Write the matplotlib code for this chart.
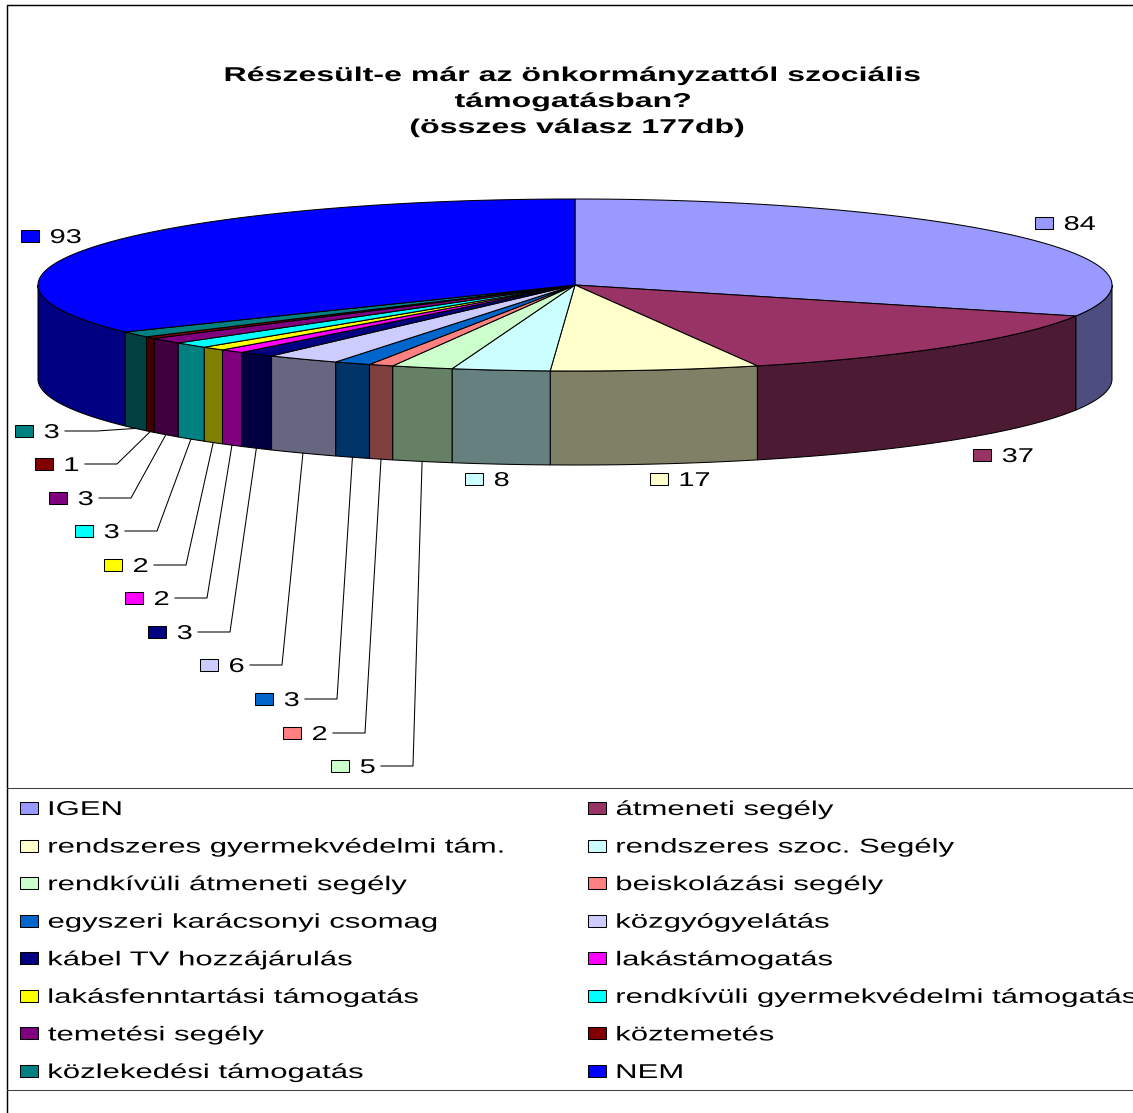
import numpy as np
import matplotlib
matplotlib.use("Agg")
import matplotlib.pyplot as plt
from matplotlib.patches import Polygon, Rectangle
from matplotlib.patheffects import AbstractPathEffect
from matplotlib.transforms import Affine2D

title_lines = ["Részesült-e már az önkormányzattól szociális",
               "támogatásban?",
               "(összes válasz 177db)"]
categories = ["IGEN", "átmeneti segély", "rendszeres gyermekvédelmi tám.",
              "rendszeres szoc. Segély", "rendkívüli átmeneti segély",
              "beiskolázási segély", "egyszeri karácsonyi csomag", "közgyógyelátás",
              "kábel TV hozzájárulás", "lakástámogatás", "lakásfenntartási támogatás",
              "rendkívüli gyermekvédelmi támogatás", "temetési segély", "köztemetés",
              "közlekedési támogatás", "NEM"]
values = [84, 37, 17, 8, 5, 2, 3, 6, 3, 2, 2, 3, 3, 1, 3, 93]
colors = ["#9999FF", "#993366", "#FFFFCC", "#CCFFFF", "#CCFFCC", "#FF8080", "#0066CC", "#CCCCFF",
          "#000080", "#FF00FF", "#FFFF00", "#00FFFF", "#800080", "#800000", "#008080", "#0000FF"]

# label layout (pixel positions): marker left x, centre y
label_pos = [(1035, 223), (973, 455), (650, 479), (465, 479), (331, 766), (283, 733), (255, 699),
             (200, 665), (148, 632), (125, 598), (104, 565), (75, 531), (49, 498), (35, 464),
             (15, 431), (21, 236)]
leader_idx = [4, 5, 6, 7, 8, 9, 10, 11, 12, 13, 14]

CX, CY, RX, RY, DEPTH = 575.0, 285.0, 537.0, 86.0, 94.0
W, H = 1133, 1113
LW = 0.75
FS = 14.4
LABEL_STRETCH = 1.45
LEGEND_STRETCH = 1.555
TITLE_STRETCH = 1.605


class StretchX(AbstractPathEffect):
    """Widen glyphs horizontally, as in the stretched original rendering."""
    def __init__(self, sx, anchor="left"):
        super().__init__()
        self.sx, self.anchor = sx, anchor

    def draw_path(self, renderer, gc, tpath, affine, rgbFace=None):
        ext = tpath.get_extents(affine)
        x0 = ext.x0 if self.anchor == "left" else 0.5 * (ext.x0 + ext.x1)
        aff = affine + Affine2D().translate(-x0, 0).scale(self.sx, 1).translate(x0, 0)
        renderer.draw_path(gc, tpath, aff, rgbFace)


def ell(theta_deg, dy=0.0):
    t = np.radians(theta_deg)
    return np.column_stack([CX + RX * np.sin(t), CY - RY * np.cos(t) + dy])


def dark(c):
    r, g, b = matplotlib.colors.to_rgb(c)
    return (r * 0.5, g * 0.5, b * 0.5)


fig = plt.figure(figsize=(W / 100, H / 100), dpi=100, facecolor="white")
ax = fig.add_axes([0, 0, 1, 1])
ax.set_xlim(0, W)
ax.set_ylim(H, 0)
ax.axis("off")

edges = np.concatenate([[0], np.cumsum(values)]) / sum(values) * 360.0

# side walls (only the front half is visible)
for i, c in enumerate(colors):
    a, b = max(edges[i], 90), min(edges[i + 1], 270)
    if b <= a:
        continue
    th = np.linspace(a, b, 100)
    pts = np.vstack([ell(th), ell(th[::-1], DEPTH)])
    ax.add_patch(Polygon(pts, closed=True, fc=dark(c), ec="black", lw=LW, zorder=2))

# top faces
for i, c in enumerate(colors):
    th = np.linspace(edges[i], edges[i + 1], 200)
    pts = np.vstack([[CX, CY], ell(th)])
    ax.add_patch(Polygon(pts, closed=True, fc=c, ec="black", lw=LW, zorder=3))


def put(x, y, s, sx, ha="left", weight="normal", size=FS):
    ax.text(x, y, s, ha=ha, va="baseline", fontsize=size, fontweight=weight,
            family="Liberation Sans", color="black",
            path_effects=[StretchX(sx, "left" if ha == "left" else "center")], zorder=6)


# data labels and leader lines
for i, (v, c, (mx, my)) in enumerate(zip(values, colors, label_pos)):
    ax.add_patch(Rectangle((mx, my - 6), 18, 12, fc=c, ec="black", lw=LW, zorder=5))
    put(mx + 29, my + 7, str(v), LABEL_STRETCH)
    if i in leader_idx:
        mid = 0.5 * (edges[i] + edges[i + 1])
        end = ell(mid, DEPTH)[0]
        ax.plot([mx + 50, mx + 82, end[0]], [my, my, end[1]],
                color="black", lw=LW, zorder=4)

# title
for x, y, line in zip([572, 573, 577], [81, 107, 133], title_lines):
    put(x, y, line, TITLE_STRETCH, ha="center", weight="bold", size=FS)

# frame and legend box
ax.plot([7, 7, W], [H, 5, 5], color="black", lw=1.05, zorder=1)
ax.plot([7, W], [788, 788], color="#404040", lw=LW, zorder=1)
ax.plot([7, W], [1090, 1090], color="#404040", lw=LW, zorder=1)

# legend
rows = np.linspace(808, 1071, 8)
for i, (name, c) in enumerate(zip(categories, colors)):
    col, row = i % 2, i // 2
    mx = 20 if col == 0 else 588
    ax.add_patch(Rectangle((mx, rows[row] - 6), 18, 12, fc=c, ec="black", lw=LW, zorder=5))
    put(mx + 28, rows[row] + 7, name, LEGEND_STRETCH)

fig.savefig("out.png", dpi=100, facecolor="white")
